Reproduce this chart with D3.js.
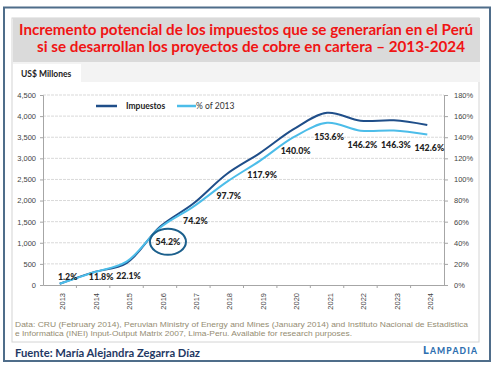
<!DOCTYPE html>
<html><head><meta charset="utf-8">
<script src="https://cdn.jsdelivr.net/npm/d3@7"></script>
<style>
html,body{margin:0;padding:0;background:#fff;}
svg{display:block;}
</style></head>
<body>
<svg id="chart" width="495" height="370"></svg>
<script>
const years = ["2013","2014","2015","2016","2017","2018","2019","2020","2021","2022","2023","2024"];
const impuestos = [30, 300, 520, 1380, 1930, 2630, 3130, 3690, 4080, 3890, 3900, 3790];
const pctOf2013 = [1.2, 11.8, 22.1, 54.2, 74.2, 97.7, 117.9, 140.0, 153.6, 146.2, 146.3, 142.6];
const leftTicks = [0,500,1000,1500,2000,2500,3000,3500,4000,4500];
const rightTicks = [0,20,40,60,80,100,120,140,160,180];
const circledYear = "2016";

const svg = d3.select("#chart");
const plot = {l:43, r:444, t:95, b:285};

// outer frame
svg.append("rect").attr("x",4).attr("y",7.5).attr("width",486).attr("height",353.5)
  .attr("fill","#fff").attr("stroke","#4f6d8a").attr("stroke-width",2);
// panel
svg.append("rect").attr("x",12).attr("y",18).attr("width",467).attr("height",324)
  .attr("fill","#fff").attr("stroke","#d4d4d4").attr("stroke-width",1);
// title band
svg.append("rect").attr("x",13).attr("y",18).attr("width",467).attr("height",44).attr("fill","#dadada");
svg.append("rect").attr("x",13).attr("y",62).attr("width",467).attr("height",20).attr("fill","#f3f3f3");
svg.append("rect").attr("x",13).attr("y",64).attr("width",68).attr("height",18).attr("fill","#fff");

const titleFont = "Lato, 'Open Sans', sans-serif";
svg.append("text").attr("x",246).attr("y",34.5).attr("text-anchor","middle")
  .attr("font-family",titleFont).attr("font-weight","bold").attr("font-size",14.5)
  .attr("fill","#f01414").attr("textLength",454).attr("lengthAdjust","spacingAndGlyphs")
  .text("Incremento potencial de los impuestos que se generarían en el Perú");
svg.append("text").attr("x",251).attr("y",51.5).attr("text-anchor","middle")
  .attr("font-family",titleFont).attr("font-weight","bold").attr("font-size",14.5)
  .attr("fill","#f01414").attr("textLength",428).attr("lengthAdjust","spacingAndGlyphs")
  .text("si se desarrollan los proyectos de cobre en cartera – 2013-2024");

svg.append("text").attr("x",21).attr("y",77).attr("font-family",titleFont).attr("font-weight","bold")
  .attr("font-size",8.5).attr("fill","#222").text("US$ Millones");

const x = d3.scaleBand().domain(years).range([plot.l, plot.r]).padding(0);
const yL = d3.scaleLinear().domain([0,4500]).range([plot.b, plot.t]);
const yR = d3.scaleLinear().domain([0,180]).range([plot.b, plot.t]);
const cx = d => x(d) + x.bandwidth()/2;

svg.append("rect").attr("x",plot.l).attr("y",plot.t).attr("width",plot.r-plot.l).attr("height",plot.b-plot.t).attr("fill","#fff");

// gridlines
svg.append("g").selectAll("line").data(leftTicks.filter(d=>d>0)).join("line")
  .attr("x1",plot.l).attr("x2",plot.r).attr("y1",d=>yL(d)).attr("y2",d=>yL(d))
  .attr("stroke","#d9d9d9").attr("stroke-width",1).attr("stroke-dasharray","3,1");

const axisFont = "'Liberation Sans', Arial, sans-serif";
const gL = svg.append("g").attr("transform",`translate(${plot.l},0)`)
  .call(d3.axisLeft(yL).tickValues(leftTicks).tickSize(3).tickPadding(4).tickFormat(d3.format(",")));
const gR = svg.append("g").attr("transform",`translate(${plot.r},0)`)
  .call(d3.axisRight(yR).tickValues(rightTicks).tickSize(4).tickPadding(6).tickFormat(d=>d+"%"));
const gB = svg.append("g").attr("transform",`translate(0,${plot.b})`)
  .call(d3.axisBottom(x).tickSize(0).tickPadding(0));
[gL,gR,gB].forEach(g=>{
  g.select(".domain").attr("stroke","#a6a6a6");
  g.selectAll(".tick line").attr("stroke","#a6a6a6");
  g.selectAll("text").attr("font-family",axisFont).attr("font-size",7.5).attr("fill","#444");
});
gB.selectAll(".tick text").attr("transform","translate(3,8) rotate(-90)").attr("text-anchor","end").attr("dy","0.35em").attr("x",0).attr("y",0);
svg.append("g").selectAll("line").data(years.slice(1)).join("line")
  .attr("x1",d=>x(d)).attr("x2",d=>x(d)).attr("y1",plot.b).attr("y2",plot.b+3)
  .attr("stroke","#a6a6a6");

// lines
const lineL = d3.line().x((d,i)=>cx(years[i])).y(d=>yL(d)).curve(d3.curveCatmullRom.alpha(0.5));
const lineR = d3.line().x((d,i)=>cx(years[i])).y(d=>yR(d)).curve(d3.curveCatmullRom.alpha(0.5));
svg.append("path").datum(impuestos).attr("d",lineL).attr("fill","none").attr("stroke","#1f4e89").attr("stroke-width",2);
svg.append("path").datum(pctOf2013).attr("d",lineR).attr("fill","none").attr("stroke","#4cbde9").attr("stroke-width",2);

// data labels
const labelFont = "Lato, 'Open Sans', sans-serif";
svg.append("g").selectAll("text").data(pctOf2013).join("text")
  .attr("x",(d,i)=>{const y0=yR(d)+17; return cx(years[i]) + (y0>280 || years[i]===circledYear ? 8 : 2);})
  .attr("y",d=>Math.min(yR(d)+17,280))
  .attr("text-anchor","middle").attr("font-family",labelFont).attr("font-weight","900")
  .attr("font-size",8.8).attr("fill","#222")
  .text(d=>d.toFixed(1)+"%");

// circle highlight
const ci = years.indexOf(circledYear);
svg.append("ellipse").attr("cx",cx(circledYear)+8).attr("cy",Math.min(yR(pctOf2013[ci])+17,280)-3)
  .attr("rx",18).attr("ry",13).attr("fill","none").attr("stroke","#1b5f8c").attr("stroke-width",2);

// legend
svg.append("line").attr("x1",96).attr("x2",117).attr("y1",106).attr("y2",106).attr("stroke","#1f4e89").attr("stroke-width",2.5);
svg.append("text").attr("x",126).attr("y",109).attr("font-family",labelFont).attr("font-weight","bold")
  .attr("font-size",8.5).attr("fill","#222").text("Impuestos");
svg.append("line").attr("x1",177).attr("x2",196).attr("y1",106).attr("y2",106).attr("stroke","#4cbde9").attr("stroke-width",2.5);
svg.append("text").attr("x",196).attr("y",109).attr("font-family",labelFont)
  .attr("font-size",8.5).attr("fill","#333").text("% of 2013");

// source note
const noteColor = "#948c72";
svg.append("text").attr("x",15).attr("y",327).attr("font-family",axisFont).attr("font-size",7.4)
  .attr("fill",noteColor).attr("textLength",453).attr("lengthAdjust","spacingAndGlyphs")
  .text("Data: CRU (February 2014), Peruvian Ministry of Energy and Mines (January 2014) and Instituto Nacional de Estadistica");
svg.append("text").attr("x",15).attr("y",335.5).attr("font-family",axisFont).attr("font-size",7.4)
  .attr("fill",noteColor).attr("textLength",337).attr("lengthAdjust","spacingAndGlyphs")
  .text("e Informatica (INEI) Input-Output Matrix 2007, Lima-Peru. Available for research purposes.");

// footer
svg.append("text").attr("x",15).attr("y",357).attr("font-family",titleFont).attr("font-weight","bold")
  .attr("font-size",11).attr("fill","#1f3864").attr("textLength",185).attr("lengthAdjust","spacingAndGlyphs")
  .text("Fuente: María Alejandra Zegarra Díaz");
const lp = svg.append("text").attr("x",423).attr("y",353.5)
  .attr("font-family",titleFont).attr("font-weight","900").attr("fill","#2e6fb0")
  .attr("textLength",54).attr("lengthAdjust","spacing");
lp.append("tspan").attr("font-size",11).text("L");
lp.append("tspan").attr("font-size",8.5).text("AMPADIA");
</script>
</body></html>
